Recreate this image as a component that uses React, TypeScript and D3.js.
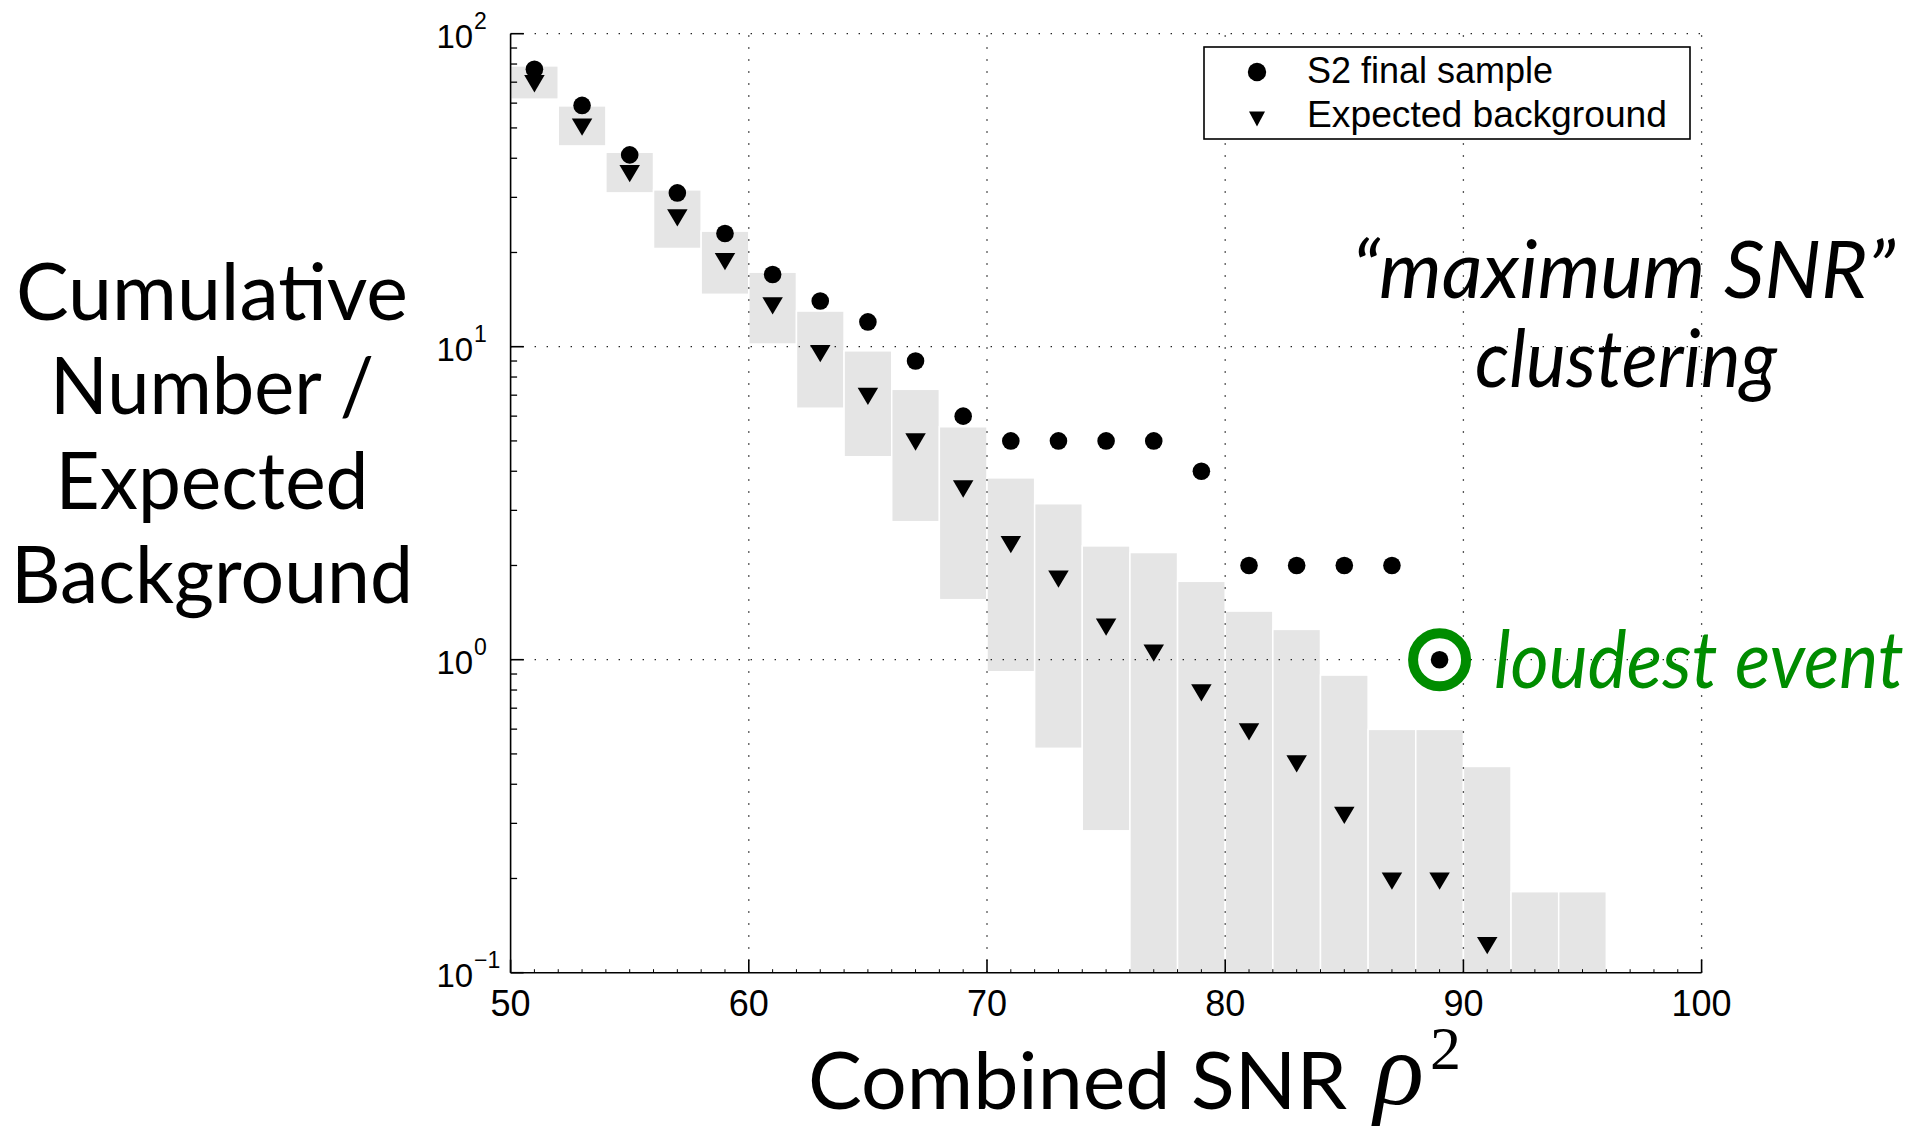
import React from 'react';
import * as d3 from 'd3';

// ---------- data ----------
const sampleX = [51, 53, 55, 57, 59, 61, 63, 65, 67, 69, 71, 73, 75, 77, 79, 81, 83, 85, 87, 89];
const sampleCount = [77, 59, 41, 31, 23, 17, 14, 12, 9, 6, 5, 5, 5, 5, 4, 2, 2, 2, 2, 1];

const bgX = [51, 53, 55, 57, 59, 61, 63, 65, 67, 69, 71, 73, 75, 77, 79, 81, 83, 85, 87, 89, 91];
const bgExpected = [69.2, 50.3, 35.7, 25.8, 18.7, 13.5, 9.5, 6.94, 4.96, 3.51, 2.33, 1.81, 1.27, 1.05, 0.784, 0.588, 0.465, 0.318, 0.196, 0.196, 0.122];

const bandX0 = [50, 52, 54, 56, 58, 60, 62, 64, 66, 68, 70, 72, 74, 76, 78, 80, 82, 84, 86, 88, 90, 92, 94];
const bandX1 = [52, 54, 56, 58, 60, 62, 64, 66, 68, 70, 72, 74, 76, 78, 80, 82, 84, 86, 88, 90, 92, 94, 96];
const bandHigh = [78.9, 58.8, 41.8, 31.7, 23.4, 17.3, 13.0, 9.7, 7.31, 5.55, 3.81, 3.15, 2.31, 2.2, 1.78, 1.43, 1.25, 0.893, 0.599, 0.599, 0.456, 0.1815, 0.1815];
const bandLow = [61.8, 43.8, 31.0, 20.6, 14.7, 10.2, 6.36, 4.45, 2.76, 1.555, 0.915, 0.521, 0.284, 0, 0, 0, 0, 0, 0, 0, 0, 0, 0];

const loudestX = 89;
const loudestY = 1;

const xTicks = [50, 60, 70, 80, 90, 100];
const xTickLabels = ['50', '60', '70', '80', '90', '100'];
const yTicks = [0.1, 1, 10, 100];
const yTickExp = ['\u22121', '0', '1', '2'];
const xGrid = [60, 70, 80, 90, 100];
const yGrid = [1, 10, 100];

const legendLabels = ['S2 final sample', 'Expected background'];
const yLabelLines = ['Cumulative', 'Number /', 'Expected', 'Background'];
const yLabelWidths = [392, 324, 313, 402];

// ---------- layout ----------
const W = 1932;
const H = 1129;
const PL = 510.6, PR = 1701.6, PT = 33.7, PB = 972.7;

const x = d3.scaleLinear().domain([50, 100]).range([PL, PR]);
const y = d3.scaleLog().domain([0.1, 100]).range([PB, PT]);

const yMinor: number[] = [];
[-1, 0, 1].forEach((k) => {
  for (let m = 2; m <= 9; m++) yMinor.push(m * Math.pow(10, k));
});
const xMinor: number[] = d3.range(51, 100).filter((v) => v % 10 !== 0);

const HEL = '"Liberation Sans", Arial, Helvetica, sans-serif';
const GILL = 'Lato, "Open Sans", sans-serif';
const SERIF = '"Liberation Serif", "DejaVu Serif", serif';
const GREEN = '#008c00';

const triPath = (w: number, h: number) =>
  `M${-w / 2},${-h / 2}L${w / 2},${-h / 2}L0,${h / 2}Z`;

export default function App() {
  return (
    <div style={{ position: 'absolute', left: 0, top: 0 }}>
      <svg width={W} height={H} viewBox={`0 0 ${W} ${H}`} style={{ display: 'block', background: '#fff' }}>
        <rect x={0} y={0} width={W} height={H} fill="#fff" />

        {/* background bands */}
        <g>
          {bandX0.map((x0, i) => {
            const top = y(bandHigh[i]);
            const bot = bandLow[i] > 0 ? y(bandLow[i]) : PB;
            return (
              <rect
                key={i}
                x={x(x0)}
                y={top}
                width={x(bandX1[i]) - x(x0)}
                height={bot - top}
                fill="#e5e5e5"
                stroke="#ffffff"
                strokeWidth={1.5}
              />
            );
          })}
        </g>

        {/* grid */}
        <g stroke="#222" strokeWidth={1.3} strokeDasharray="1.4 10.6">
          {xGrid.map((v) => (
            <line key={'gx' + v} x1={x(v)} x2={x(v)} y1={PB} y2={PT} />
          ))}
          {yGrid.map((v) => (
            <line key={'gy' + v} x1={PL} x2={PR} y1={y(v)} y2={y(v)} />
          ))}
        </g>

        {/* axes */}
        <g stroke="#000" strokeWidth={1.6} fill="none">
          <line x1={PL} x2={PL} y1={PT} y2={PB} />
          <line x1={PL} x2={PR} y1={PB} y2={PB} />
          {yTicks.map((v) => (
            <line key={'yt' + v} x1={PL} x2={PL + 13} y1={y(v)} y2={y(v)} />
          ))}
          {yMinor.map((v) => (
            <line key={'ym' + v} x1={PL} x2={PL + 6.5} y1={y(v)} y2={y(v)} strokeWidth={1.3} />
          ))}
          {xTicks.map((v) => (
            <line key={'xt' + v} x1={x(v)} x2={x(v)} y1={PB} y2={PB - 13} />
          ))}
          {xMinor.map((v) => (
            <line key={'xm' + v} x1={x(v)} x2={x(v)} y1={PB} y2={PB - 3.5} strokeWidth={1} />
          ))}
        </g>

        {/* tick labels */}
        <g fontFamily={HEL} fill="#000">
          {xTicks.map((v, i) => (
            <text key={'xl' + v} x={x(v)} y={PB + 43.5} fontSize={36} textAnchor="middle">
              {xTickLabels[i]}
            </text>
          ))}
          {yTicks.map((v, i) => (
            <g key={'yl' + v}>
              <text x={PL - 37.5} y={y(v) + 14.6} fontSize={33} textAnchor="end">
                10
              </text>
              <text x={PL - 36.5} y={y(v) - 5} fontSize={23} textAnchor="start">
                {yTickExp[i]}
              </text>
            </g>
          ))}
        </g>

        {/* expected background triangles */}
        <g fill="#000">
          {bgX.map((v, i) => (
            <path key={'t' + i} d={triPath(20.5, 17.3)} transform={`translate(${x(v)},${y(bgExpected[i])})`} />
          ))}
        </g>

        {/* loudest event ring */}
        <circle cx={x(loudestX)} cy={y(loudestY)} r={26.5} fill="#fff" stroke={GREEN} strokeWidth={10} />

        {/* sample dots */}
        <g fill="#000">
          {sampleX.map((v, i) => (
            <circle key={'d' + i} cx={x(v)} cy={y(sampleCount[i])} r={8.8} />
          ))}
        </g>

        {/* legend */}
        <g>
          <rect x={1204} y={47} width={486} height={92} fill="#fff" stroke="#000" strokeWidth={1.6} />
          <circle cx={1257} cy={72} r={9.2} fill="#000" />
          <path d={triPath(16, 15)} transform="translate(1257,119)" fill="#000" />
          <text x={1307} y={83} fontFamily={HEL} fontSize={36} fill="#000">
            {legendLabels[0]}
          </text>
          <text x={1307} y={127} fontFamily={HEL} fontSize={36} fill="#000" textLength={360} lengthAdjust="spacingAndGlyphs">
            {legendLabels[1]}
          </text>
        </g>

        {/* y label */}
        <g fontFamily={GILL} fontSize={80} fill="#000" textAnchor="middle">
          {yLabelLines.map((t, i) => (
            <text key={'yl' + i} x={212} y={320 + i * 94.3} textLength={yLabelWidths[i]} lengthAdjust="spacingAndGlyphs">
              {t}
            </text>
          ))}
        </g>

        {/* x label */}
        <g fill="#000">
          <text x={808} y={1109} fontFamily={GILL} fontSize={80} textLength={539} lengthAdjust="spacingAndGlyphs">
            Combined SNR
          </text>
          <text x={1374} y={1104} fontFamily={SERIF} fontStyle="italic" fontSize={104}>
            ρ
          </text>
          <text x={1430} y={1069} fontFamily={SERIF} fontSize={62}>
            2
          </text>
        </g>

        {/* annotations */}
        <g fontFamily={GILL} fontStyle="italic" fontSize={80}>
          <text x={1352} y={298} fill="#000" textLength={543} lengthAdjust="spacingAndGlyphs">
            “maximum SNR”
          </text>
          <text x={1475} y={387} fill="#000" textLength={302} lengthAdjust="spacingAndGlyphs">
            clustering
          </text>
          <text x={1494} y={688} fill={GREEN} textLength={410} lengthAdjust="spacingAndGlyphs">
            loudest event
          </text>
        </g>
      </svg>
    </div>
  );
}
